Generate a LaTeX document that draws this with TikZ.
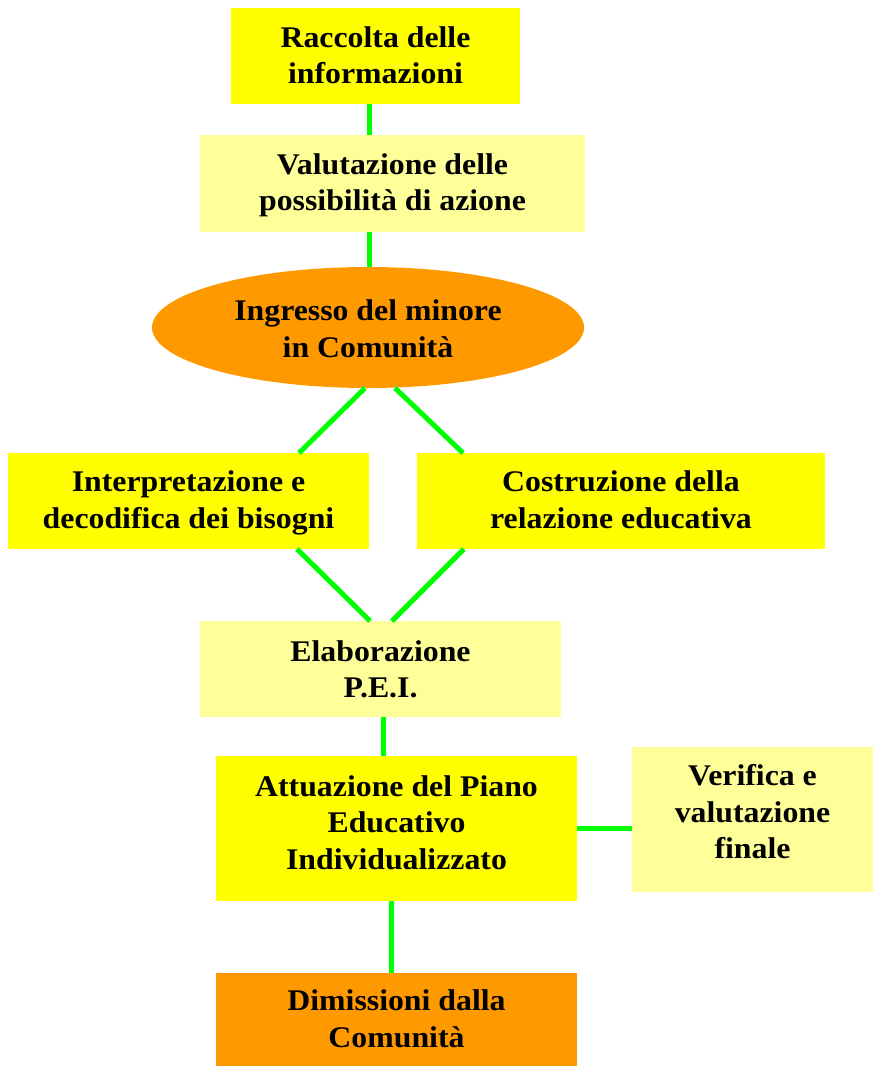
\documentclass[tikz,border=0pt]{standalone}
\usepackage{fontspec}
\setmainfont{Liberation Serif}[FakeStretch=1.06]
\usetikzlibrary{shapes.geometric,calc}
\definecolor{ybright}{HTML}{FFFF00}
\definecolor{ylight}{HTML}{FFFF99}
\definecolor{orng}{HTML}{FF9900}
\definecolor{grn}{HTML}{00FF00}
\begin{document}
\begin{tikzpicture}[x=1pt,y=-1pt,
  boxbase/.style={draw=none,inner sep=0pt,outer sep=0pt},
  ybox/.style={boxbase,fill=ybright,rectangle},
  lbox/.style={boxbase,fill=ylight,rectangle},
  obox/.style={boxbase,fill=orng,rectangle},
  oell/.style={boxbase,fill=orng,ellipse},
  txt/.style={inner sep=0pt,align=center,font={\fontsize{30}{36.5}\selectfont\bfseries}},
  conn/.style={draw=grn,line width=5pt}]
\useasboundingbox (0,0) rectangle (877,1066);
% boxes
\node[ybox,minimum width=289,minimum height=96] (rac) at (375.5,56) {};
\node[lbox,minimum width=385,minimum height=97] (val) at (392.5,183.5) {};
\node[oell,minimum width=432,minimum height=121] (ell) at (368,327.5) {};
\node[ybox,minimum width=361,minimum height=96] (interp) at (188.5,501) {};
\node[ybox,minimum width=408,minimum height=96] (cos) at (621,501) {};
\node[lbox,minimum width=361,minimum height=96] (elab) at (380.5,669) {};
\node[ybox,minimum width=361,minimum height=145] (att) at (396.5,828.5) {};
\node[lbox,minimum width=241,minimum height=145] (ver) at (752.5,819.5) {};
\node[obox,minimum width=361,minimum height=93] (dim) at (396.5,1019.5) {};
% texts
\node[txt,anchor=north] (trac) at ($(rac.north)+(0,15)$) {\rule{0pt}{24pt}Raccolta delle\\informazioni};
\node[txt,anchor=north] (tval) at ($(val.north)+(0,15)$) {\rule{0pt}{24pt}Valutazione delle\\possibilità di azione};
\node[txt,anchor=north] (tell) at ($(ell.center)+(0,-30.8)$) {\rule{0pt}{24pt}Ingresso del minore\\in Comunità};
\node[txt,anchor=north] (tinterp) at ($(interp.north)+(0,14.7)$) {\rule{0pt}{24pt}Interpretazione e\\decodifica dei bisogni};
\node[txt,anchor=north] (tcos) at ($(cos.north)+(0,14.7)$) {\rule{0pt}{24pt}Costruzione della\\relazione educativa};
\node[txt,anchor=north] (telab) at ($(elab.north)+(0,16)$) {\rule{0pt}{24pt}Elaborazione\\P.E.I.};
\node[txt,anchor=north] (tatt) at ($(att.north)+(0,16)$) {\rule{0pt}{24pt}Attuazione del Piano\\Educativo\\Individualizzato};
\node[txt,anchor=north] (tver) at ($(ver.north)+(0,14.7)$) {\rule{0pt}{24pt}Verifica e\\valutazione\\finale};
\node[txt,anchor=north] (tdim) at ($(dim.north)+(0,13.7)$) {\rule{0pt}{24pt}Dimissioni dalla\\Comunità};
% connectors
\draw[conn] ($(rac.south)+(-6.5,0)$) coordinate (c1) -- (c1 |- val.north);
\draw[conn] ($(val.south)+(-23.5,0)$) coordinate (c2) -- (c2 |- ell.north);
\draw[conn] ($(ell.south)+(-3,0)$) -- ($(interp.north east)+(-70,0)$);
\draw[conn] ($(ell.south)+(27,0)$) -- ($(cos.north west)+(46,0)$);
\draw[conn] ($(interp.south east)+(-72,0)$) -- ($(elab.north)+(-10.5,0)$);
\draw[conn] ($(cos.south west)+(47,0)$) -- ($(elab.north)+(11.5,0)$);
\draw[conn] ($(elab.south)+(2.5,0)$) coordinate (c3) -- (c3 |- att.north);
\draw[conn] (att.east) -- (att.east -| ver.west);
\draw[conn] ($(att.south)+(-5.5,0)$) coordinate (c4) -- (c4 |- dim.north);
\end{tikzpicture}
\end{document}
